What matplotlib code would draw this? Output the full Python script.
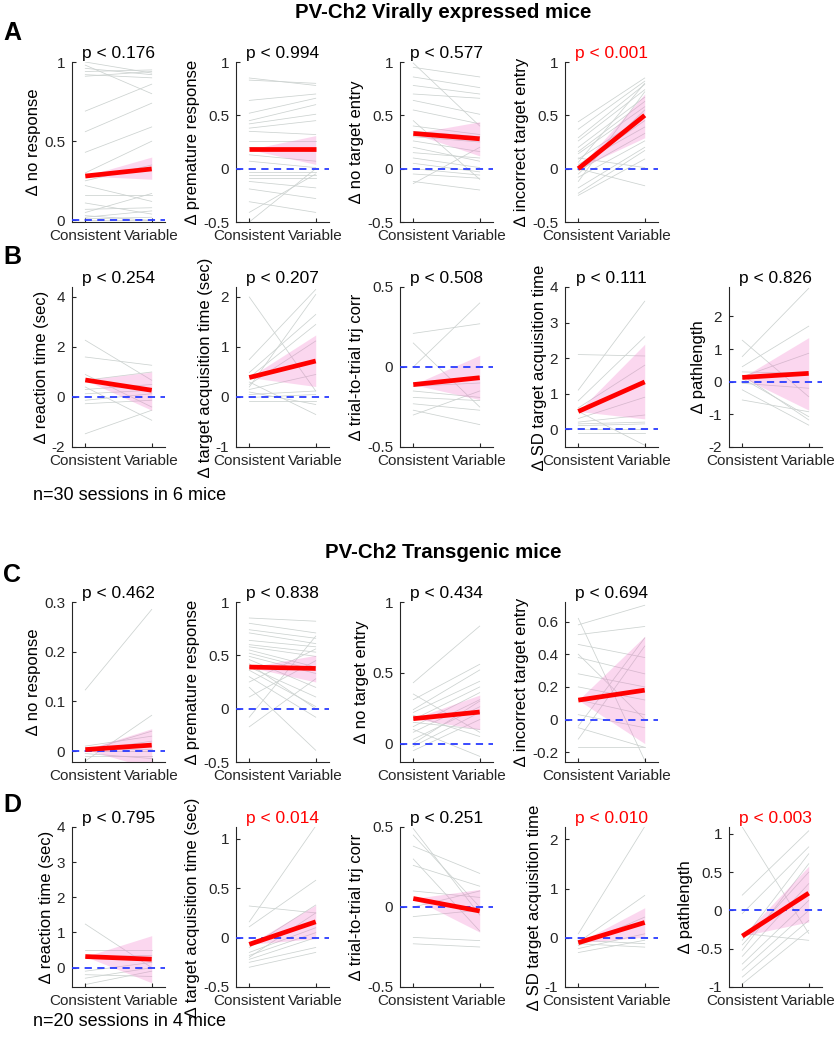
import matplotlib.pyplot as plt
import numpy as np

plt.rcParams['font.family'] = ['Liberation Sans', 'DejaVu Sans']

conds = ['Consistent', 'Variable']

######## ROW A : PV-Ch2 virally expressed ########
a_ylabels = ['∆ no response', '∆ premature response', '∆ no target entry', '∆ incorrect target entry']
a_pvals = ['p < 0.176', 'p < 0.994', 'p < 0.577', 'p < 0.001']
a_sig = [False, False, False, True]
a_ylims = [(-0.01, 1), (-0.5, 1), (-0.5, 1), (-0.5, 1)]
a_yticks = [[0, 0.5, 1], [-0.5, 0, 0.5, 1], [-0.5, 0, 0.5, 1], [-0.5, 0, 0.5, 1]]
a_mean_cons = [0.28, 0.18, 0.33, 0.0]
a_mean_var = [0.325, 0.18, 0.28, 0.50]
a_ci_lo = [0.26, 0.04, 0.12, 0.29]
a_ci_hi = [0.40, 0.31, 0.44, 0.70]

a1_cons = [1.0, 0.98, 0.96, 0.94, 0.92, 0.91, 0.69, 0.56, 0.43, 0.30, 0.25, 0.22, 0.16, 0.11, 0.07, 0.05, 0.03, 0.02, 0.01, 0.0]
a1_var = [0.93, 0.80, 0.92, 0.95, 0.90, 0.94, 0.86, 0.74, 0.59, 0.50, 0.35, 0.12, 0.16, 0.04, 0.08, 0.17, 0.0, 0.06, 0.02, 0.0]
a2_cons = [0.85, 0.83, 0.64, 0.52, 0.45, 0.42, 0.38, 0.35, 0.26, 0.20, 0.13, 0.07, -0.03, -0.06, -0.09, -0.12, -0.19, -0.31, -0.41, -0.50]
a2_var = [0.78, 0.80, 0.70, 0.66, 0.60, 0.51, 0.45, 0.32, 0.26, 0.16, 0.07, 0.01, -0.03, -0.06, -0.09, -0.18, -0.28, -0.41, -0.05, 0.0]
a3_cons = [0.99, 0.95, 0.86, 0.78, 0.70, 0.64, 0.55, 0.40, 0.30, 0.26, 0.20, 0.10, 0.05, 0.0, -0.05, -0.12, -0.14, 0.15, 0.35, 0.45]
a3_var = [0.40, 0.86, 0.76, 0.70, 0.66, 0.51, 0.42, 0.32, 0.25, 0.16, 0.07, 0.01, -0.03, -0.06, -0.09, -0.20, 0.20, 0.10, 0.30, -0.10]
a4_cons = [0.44, 0.37, 0.29, 0.26, 0.20, 0.14, 0.09, 0.04, -0.02, -0.08, -0.18, -0.23, -0.25, 0.10, 0.0, 0.06, -0.12, 0.16, -0.05, 0.02]
a4_var = [0.85, 0.82, 0.79, 0.74, 0.67, 0.58, 0.49, 0.39, 0.33, 0.26, 0.20, 0.17, 0.09, 0.01, -0.16, 0.80, 0.72, 0.63, 0.55, 0.45]

######## ROW B ########
b_ylabels = ['∆ reaction time (sec)', '∆ target acquisition time (sec)', '∆ trial-to-trial trj corr',
             '∆ SD target acquisition time', '∆ pathlength']
b_pvals = ['p < 0.254', 'p < 0.207', 'p < 0.508', 'p < 0.111', 'p < 0.826']
b_sig = [False, False, False, False, False]
b_ylims = [(-2, 4.4), (-1, 2.2), (-0.5, 0.5), (-0.5, 4), (-2, 2.9)]
b_yticks = [[-2, 0, 2, 4], [-1, 0, 1, 2], [-0.5, 0, 0.5], [0, 1, 2, 3, 4], [-2, -1, 0, 1, 2]]
b_mean_cons = [0.68, 0.39, -0.11, 0.50, 0.13]
b_mean_var = [0.27, 0.72, -0.067, 1.33, 0.255]
b_ci_lo = [-0.53, 0.21, -0.204, 0.29, -0.87]
b_ci_hi = [1.00, 1.24, 0.073, 2.39, 1.35]

b1_cons = [2.27, 1.6, 0.67, 0.4, 0.13, -0.13, -0.27, -1.47, 0.9, 0.3]
b1_var = [0.67, 1.27, 1.0, -0.93, 0.27, 0.13, -0.13, -0.53, -0.4, 0.5]
b2_cons = [2.0, 0.75, 0.49, 0.39, 0.25, 0.15, 0.05, -0.01, -0.08, 0.1, 0.3, 0.2]
b2_var = [0.12, 2.15, 1.65, 1.45, 1.12, 0.45, 0.12, 0.05, -0.08, -0.15, -0.35, 2.05]
b3_cons = [0.21, 0.0, -0.10, -0.15, -0.19, -0.23, -0.27, -0.30, -0.12, 0.15]
b3_var = [0.27, 0.40, -0.06, -0.19, -0.21, -0.27, -0.36, -0.15, -0.10, -0.25]
b4_cons = [2.1, 1.1, 0.8, 0.6, 0.2, 0.15, 0.1, 0.0, -0.1, 0.5, 0.3]
b4_var = [2.06, 3.6, 2.6, 1.8, 0.4, 0.2, 0.15, 0.0, -0.1, -0.45, 0.9]
b5_cons = [1.27, 0.77, 0.46, 0.15, 0.3, -0.05, -0.25, -0.56, 0.1, 0.2]
b5_var = [-0.46, 2.86, 1.7, 0.87, 0.25, -0.2, -1.33, -0.92, -1.07, -1.17]

######## ROW C : PV-Ch2 transgenic ########
c_ylabels = a_ylabels
c_pvals = ['p < 0.462', 'p < 0.838', 'p < 0.434', 'p < 0.694']
c_sig = [False, False, False, False]
c_ylims = [(-0.022, 0.3), (-0.5, 1), (-0.13, 1), (-0.26, 0.72)]
c_yticks = [[0, 0.1, 0.2, 0.3], [-0.5, 0, 0.5, 1], [0, 0.5, 1], [-0.2, 0, 0.2, 0.4, 0.6]]
c_mean_cons = [0.003, 0.39, 0.176, 0.119]
c_mean_var = [0.012, 0.377, 0.223, 0.18]
c_ci_lo = [-0.035, 0.25, 0.10, -0.147]
c_ci_hi = [0.045, 0.50, 0.343, 0.51]

c1_cons = [0.123, -0.02, 0.0, 0.0, 0.0, 0.0, -0.01, 0.0, 0.005, 0.01, -0.005]
c1_var = [0.285, 0.072, 0.04, 0.02, 0.01, 0.0, -0.01, 0.0, 0.005, 0.03, -0.015]
c2_cons = [0.85, 0.80, 0.74, 0.71, 0.64, 0.60, 0.58, 0.55, 0.49, 0.46, 0.39, 0.36, 0.30, 0.20, 0.11, -0.08, -0.17, 0.25, 0.42, 0.52]
c2_var = [0.82, 0.71, 0.66, 0.61, 0.58, 0.53, 0.49, 0.39, 0.33, 0.20, 0.11, 0.02, -0.08, -0.39, 0.45, 0.68, 0.28, 0.56, 0.0, 0.36]
c3_cons = [0.43, 0.31, 0.24, 0.22, 0.17, 0.12, 0.08, 0.03, -0.02, -0.05, 0.35, 0.2, 0.1, 0.0, 0.15]
c3_var = [0.83, 0.56, 0.52, 0.44, 0.40, 0.36, 0.31, 0.26, 0.22, 0.17, 0.08, 0.05, -0.09, 0.3, 0.1]
c4_cons = [0.62, 0.58, 0.52, 0.46, 0.38, 0.28, 0.20, 0.12, 0.03, -0.05, -0.12, -0.17, 0.40, -0.04]
c4_var = [-0.25, 0.70, 0.57, 0.38, 0.28, 0.20, 0.12, 0.03, -0.05, -0.17, 0.45, -0.17, 0.0, 0.50]

######## ROW D ########
d_ylabels = b_ylabels
d_pvals = ['p < 0.795', 'p < 0.014', 'p < 0.251', 'p < 0.010', 'p < 0.003']
d_sig = [False, True, False, True, True]
d_ylims = [(-0.55, 4), (-0.5, 1.12), (-0.5, 0.5), (-1, 2.25), (-1, 1.09)]
d_yticks = [[0, 1, 2, 3, 4], [-0.5, 0, 0.5, 1], [-0.5, 0, 0.5], [-1, 0, 1, 2], [-1, -0.5, 0, 0.5, 1]]
d_mean_cons = [0.316, -0.068, 0.053, -0.10, -0.335]
d_mean_var = [0.24, 0.16, -0.025, 0.31, 0.226]
d_ci_lo = [-0.43, -0.01, -0.157, 0.01, -0.15]
d_ci_hi = [0.91, 0.33, 0.11, 0.61, 0.578]

d1_cons = [1.24, 0.3, -0.1, -0.3, -0.48, 0.5, -0.2]
d1_var = [0.0, 0.35, 0.15, 0.0, -0.1, 0.5, -0.25]
d2_cons = [0.32, 0.16, 0.11, -0.10, -0.15, -0.2, -0.25, -0.3, -0.22, -0.18]
d2_var = [0.25, 1.13, 0.58, 0.33, 0.1, 0.25, -0.1, -0.15, 0.0, 0.05]
d3_cons = [0.49, 0.45, 0.38, 0.26, 0.10, -0.06, -0.19, -0.23, 0.3, 0.0]
d3_var = [-0.05, 0.0, 0.21, 0.13, 0.06, -0.02, -0.21, -0.25, -0.15, 0.1]
d4_cons = [0.08, -0.09, -0.16, -0.22, -0.3, -0.05, -0.12]
d4_var = [2.26, 0.86, 0.42, 0.08, -0.05, -0.12, -0.19]
d5_cons = [1.09, 0.2, -0.04, -0.39, -0.52, -0.6, -0.7, -0.78, -0.87, -0.96, -0.3, -0.45]
d5_var = [-0.3, 1.04, 0.83, 0.74, 0.61, 0.35, 0.13, 0.0, -0.13, -0.26, -0.39, 0.5]

###### LAYOUT (pixels) ######
W, H = 837, 1042
col_left = [72, 236, 400, 565, 729]
ax_w, ax_h = 93, 160
row_top = {'A': 62, 'B': 287, 'C': 602, 'D': 827}

rows = {
    'A': (a_ylabels, a_pvals, a_sig, a_ylims, a_yticks, a_mean_cons, a_mean_var, a_ci_lo, a_ci_hi,
          [(a1_cons, a1_var), (a2_cons, a2_var), (a3_cons, a3_var), (a4_cons, a4_var)]),
    'B': (b_ylabels, b_pvals, b_sig, b_ylims, b_yticks, b_mean_cons, b_mean_var, b_ci_lo, b_ci_hi,
          [(b1_cons, b1_var), (b2_cons, b2_var), (b3_cons, b3_var), (b4_cons, b4_var), (b5_cons, b5_var)]),
    'C': (c_ylabels, c_pvals, c_sig, c_ylims, c_yticks, c_mean_cons, c_mean_var, c_ci_lo, c_ci_hi,
          [(c1_cons, c1_var), (c2_cons, c2_var), (c3_cons, c3_var), (c4_cons, c4_var)]),
    'D': (d_ylabels, d_pvals, d_sig, d_ylims, d_yticks, d_mean_cons, d_mean_var, d_ci_lo, d_ci_hi,
          [(d1_cons, d1_var), (d2_cons, d2_var), (d3_cons, d3_var), (d4_cons, d4_var), (d5_cons, d5_var)]),
}

fig = plt.figure(figsize=(W / 100, H / 100), dpi=100)
x = [1, 2]
axcol = '#262626'

for key, row in rows.items():
    ylabels, pvals, sig, ylims, yticks, mc, mv, lo, hi, sessions = row
    for i, (cons, var) in enumerate(sessions):
        ax = fig.add_axes([col_left[i] / W, 1 - (row_top[key] + ax_h) / H, ax_w / W, ax_h / H])
        for c, v in zip(cons, var):
            ax.plot(x, [c, v], color='#ccd2d0', lw=0.55, zorder=1)
        ax.fill_between(x, [mc[i], lo[i]], [mc[i], hi[i]], color='#f27ccb', alpha=0.3, lw=0, zorder=2)
        ax.axhline(0, color='#2a3cff', lw=1.3, ls=(0, (4, 3)), zorder=3)
        ax.plot(x, [mc[i], mv[i]], color='#ff0000', lw=3.4, solid_capstyle='butt', zorder=4)
        ax.set_xlim(0.8, 2.2)
        ax.set_ylim(*ylims[i])
        ax.set_xticks(x)
        ax.set_xticklabels(conds)
        ax.set_yticks(yticks[i])
        ax.set_yticklabels(['%g' % t for t in yticks[i]])
        ax.set_ylabel(ylabels[i], fontsize=12, labelpad=2)
        ax.set_title(pvals[i], fontsize=12.5, pad=3, color='red' if sig[i] else 'black')
        for s in ['top', 'right']:
            ax.spines[s].set_visible(False)
        for s in ['left', 'bottom']:
            ax.spines[s].set_color(axcol)
            ax.spines[s].set_linewidth(0.8)
        ax.tick_params(direction='in', length=3, width=0.8, colors=axcol, labelsize=11, pad=5)

# textos
fig.text(443 / W, 1 - 12 / H, 'PV-Ch2 Virally expressed mice', ha='center', va='center',
         fontsize=14.7, fontweight='bold')
fig.text(443 / W, 1 - 552 / H, 'PV-Ch2 Transgenic mice', ha='center', va='center',
         fontsize=14.7, fontweight='bold')
for lab, yy in [('A', 33), ('B', 257), ('C', 575), ('D', 805)]:
    fig.text(3 / W, 1 - yy / H, lab, ha='left', va='center', fontsize=18, fontweight='bold')
fig.text(33 / W, 1 - 495 / H, 'n=30 sessions in 6 mice', ha='left', va='center', fontsize=13)
fig.text(33 / W, 1 - 1022 / H, 'n=20 sessions in 4 mice', ha='left', va='center', fontsize=13)

fig.savefig('out.png', dpi=100)
